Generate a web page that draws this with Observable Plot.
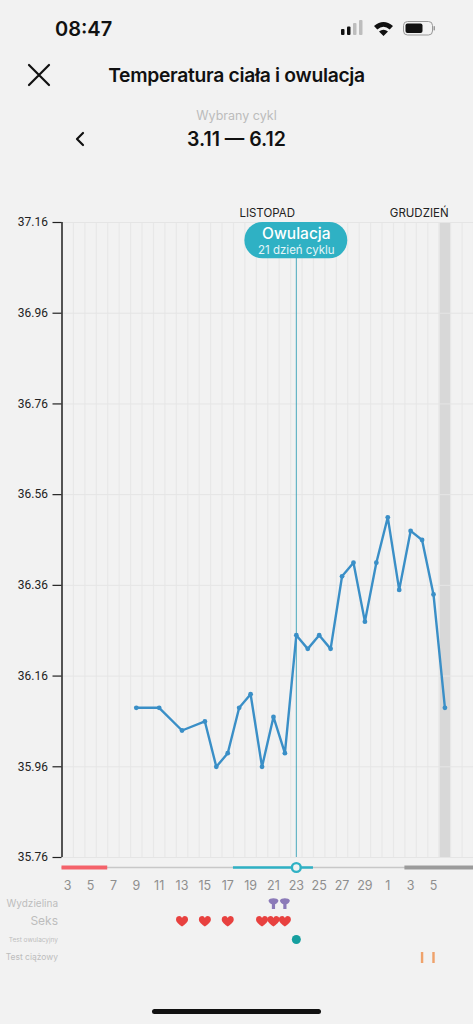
<!DOCTYPE html>
<html lang="pl">
<head>
<meta charset="utf-8">
<title>Temperatura ciała i owulacja</title>
<script src="https://cdn.jsdelivr.net/npm/d3@7"></script>
<script src="https://cdn.jsdelivr.net/npm/@observablehq/plot@0.6"></script>
<style>
  html, body { margin: 0; padding: 0; background: #f2f2f2; }
  body { width: 473px; height: 1024px; position: relative; overflow: hidden; font-family: Inter, sans-serif; color: #111; }
  .abs { position: absolute; white-space: nowrap; }
  .center { left: 0; width: 473px; text-align: center; }
  #chart { position: absolute; left: 0; top: 200px; }
  #tracks { position: absolute; left: 0; top: 857px; }
  svg { display: block; }
</style>
</head>
<body>
<div class="abs" style="left:55px;top:17px;font-size:20px;font-weight:600;line-height:24px">08:47</div>
<svg class="abs" style="left:338px;top:18px" width="102" height="22" viewBox="0 0 102 22">
  <g fill="#111"><rect x="3" y="11" width="3.500" height="6" rx="1"/><rect x="9" y="8.500" width="3.500" height="8.500" rx="1"/></g>
  <g fill="#bdbdbd"><rect x="15" y="5" width="3.500" height="12" rx="1"/><rect x="21" y="2" width="3.500" height="15" rx="1"/></g>
  <path d="M45.500 18 L41 13.500 Q45.500 10 50 13.500 Z M39.300 11.500 L36 8 Q45.500 0 55 8 L51.700 11.500 Q45.500 6 39.300 11.500 Z" fill="#111"/>
  <rect x="65.500" y="3.500" width="29" height="13.500" rx="4" fill="none" stroke="#999"/>
  <rect x="67.500" y="5.500" width="17" height="9.500" rx="2" fill="#111"/>
  <rect x="95.500" y="8" width="1.500" height="4.500" rx="0.700" fill="#999"/>
</svg>
<svg class="abs" style="left:26px;top:62px" width="26" height="26" viewBox="0 0 26 26"><path d="M3 3 L23 23 M23 3 L3 23" stroke="#111" stroke-width="2.200" stroke-linecap="round"/></svg>
<div class="abs center" style="top:63px;font-size:19.300px;font-weight:600;line-height:24px;letter-spacing:-0.300px">Temperatura ciała i owulacja</div>
<div class="abs center" style="top:108px;font-size:12.500px;line-height:16px;color:#bcbcbc">Wybrany cykl</div>
<svg class="abs" style="left:73px;top:131px" width="14" height="16" viewBox="0 0 14 16"><path d="M10 2 L4 8 L10 14" fill="none" stroke="#111" stroke-width="2.200" stroke-linecap="round" stroke-linejoin="round"/></svg>
<div class="abs center" style="top:127px;font-size:19.500px;font-weight:600;line-height:24px">3.11 — 6.12</div>
<div id="chart"></div>
<div id="tracks"></div>
<div class="abs" style="left:152px;top:1009px;width:169px;height:5px;border-radius:3px;background:#111"></div>
<script>
// Days are counted from the first day of the cycle (3 Nov = 0)
const pointDays = [6, 8, 10, 12, 13, 14, 15, 16, 17, 18, 19, 20, 21, 22, 23, 24, 25, 26, 27, 28, 29, 30, 31, 32, 33];
const temperatures = [36.09, 36.09, 36.04, 36.06, 35.96, 35.99, 36.09, 36.12, 35.96, 36.07, 35.99, 36.25, 36.22, 36.25, 36.22, 36.38, 36.41, 36.28, 36.41, 36.51, 36.35, 36.48, 36.46, 36.34, 36.09];
const yTicks = [37.16, 36.96, 36.76, 36.56, 36.36, 36.16, 35.96, 35.76];
const xTickDays = [0, 2, 4, 6, 8, 10, 12, 14, 16, 18, 20, 22, 24, 26, 28, 30, 32];
const xTickLabels = ["3", "5", "7", "9", "11", "13", "15", "17", "19", "21", "23", "25", "27", "29", "1", "3", "5"];
const months = ["LISTOPAD", "GRUDZIEŃ"];
const monthDays = [17.45, 30.75];
const dischargeDays = [18, 19];
const sexDays = [10, 12, 14, 17, 18, 19];
const ovulationTestDays = [20];
const pregnancyTestDays = [31, 32];
const ovulationDay = 20;
const todayBand = [32.5, 33.5];
const rows = ["cykl", "dni", "Wydzielina", "Seks", "Test owulacyjny", "Test ciążowy"];
const rowFontSizes = [10, 12, 6.5, 8.5];

const xDomain = [-0.5, 35.5];
const dayEdges = d3.range(-0.5, 36, 1);
const points = pointDays.map((day, i) => ({day, temp: temperatures[i]}));

const TEAL = "#2fb1c4";

function symbolFrom(path) {
  return {draw(ctx, size) {
    const r = Math.sqrt(size / Math.PI);
    path(ctx, r);
  }};
}
const heart = symbolFrom((c, r) => {
  c.moveTo(0, 0.85 * r);
  c.bezierCurveTo(-0.5 * r, 0.45 * r, -r, 0.1 * r, -r, -0.35 * r);
  c.bezierCurveTo(-r, -0.75 * r, -0.7 * r, -0.9 * r, -0.45 * r, -0.9 * r);
  c.bezierCurveTo(-0.25 * r, -0.9 * r, -0.08 * r, -0.75 * r, 0, -0.6 * r);
  c.bezierCurveTo(0.08 * r, -0.75 * r, 0.25 * r, -0.9 * r, 0.45 * r, -0.9 * r);
  c.bezierCurveTo(0.7 * r, -0.9 * r, r, -0.75 * r, r, -0.35 * r);
  c.bezierCurveTo(r, 0.1 * r, 0.5 * r, 0.45 * r, 0, 0.85 * r);
  c.closePath();
});
const funnel = symbolFrom((c, r) => {
  c.moveTo(-r, -0.55 * r);
  c.bezierCurveTo(-0.8 * r, -1.2 * r, 0.8 * r, -1.2 * r, r, -0.55 * r);
  c.bezierCurveTo(0.95 * r, -0.25 * r, 0.6 * r, 0.05 * r, 0.32 * r, 0.15 * r);
  c.lineTo(0.32 * r, 1.1 * r);
  c.lineTo(-0.32 * r, 1.1 * r);
  c.lineTo(-0.32 * r, 0.15 * r);
  c.bezierCurveTo(-0.6 * r, 0.05 * r, -0.95 * r, -0.25 * r, -r, -0.55 * r);
  c.closePath();
});
const bar = symbolFrom((c, r) => {
  c.rect(-0.22 * r, -r, 0.44 * r, 2 * r);
});

const chart = Plot.plot({
  width: 473, height: 658,
  marginLeft: 61.5, marginRight: 0, marginTop: 22, marginBottom: 1,
  style: {background: "transparent", fontFamily: "Inter, sans-serif", overflow: "visible"},
  x: {domain: xDomain, axis: null},
  y: {domain: [35.76, 37.16], axis: null},
  marks: [
    Plot.rect([todayBand], {x1: d => d[0], x2: d => d[1], y1: 35.76, y2: 37.16, fill: "#d8d8d8"}),
    Plot.ruleX(dayEdges, {stroke: "#e8e8e8", strokeWidth: 1.2}),
    Plot.ruleY(yTicks, {stroke: "#e5e5e5", strokeWidth: 1, x1: -0.5, x2: 35.5}),
    Plot.ruleX([ovulationDay], {stroke: "#49a9bc", strokeWidth: 1}),
    Plot.line(points, {x: "day", y: "temp", stroke: "#3a8fc7", strokeWidth: 2.4}),
    Plot.dot(points, {x: "day", y: "temp", fill: "#3a8fc7", r: 2.4}),
    Plot.rect([ovulationDay], {x1: d => d - 4.5, x2: d => d + 4.5, y1: 37.08, y2: 37.16, fill: TEAL, rx: 18}),
    Plot.text(["Owulacja"], {x: ovulationDay, y: 37.16, dy: 12, text: d => d, fill: "#fff", fontSize: 15.5, fontWeight: 500}),
    Plot.text(["21 dzień cyklu"], {x: ovulationDay, y: 37.16, dy: 28, text: d => d, fill: "#e4f5f8", fontSize: 11.5}),
    Plot.text(months, {x: (d, i) => monthDays[i], y: 37.16, dy: -9, text: d => d, fill: "#222", fontSize: 11.5}),
    Plot.ruleX([-0.5], {stroke: "#222", strokeWidth: 1.5}),
    Plot.axisY({ticks: yTicks, anchor: "left", label: null, tickSize: 9, tickPadding: 5, tickFormat: d => d.toFixed(2), stroke: "#222", strokeWidth: 1.2, fontSize: 12, fontFamily: "Roboto, sans-serif", fill: "#222"})
  ]
});
document.getElementById("chart").append(chart);

const tracks = Plot.plot({
  width: 473, height: 167,
  marginLeft: 61.5, marginRight: 0, marginTop: 9, marginBottom: 67,
  style: {background: "transparent", fontFamily: "Inter, sans-serif", overflow: "visible"},
  x: {domain: xDomain, axis: null},
  y: {type: "point", domain: rows, padding: 0, axis: null},
  marks: [
    Plot.ruleY(["cykl"], {x1: -0.5, x2: 35.5, stroke: "#c8c8c8", strokeWidth: 1.5}),
    Plot.ruleY(["cykl"], {x1: -0.5, x2: 3.5, stroke: "#f4626a", strokeWidth: 4}),
    Plot.ruleY(["cykl"], {x1: 14.5, x2: 21.5, stroke: TEAL, strokeWidth: 2.6}),
    Plot.ruleY(["cykl"], {x1: 29.5, x2: 35.5, stroke: "#9b9b9b", strokeWidth: 4}),
    Plot.dot([ovulationDay], {x: d => d, y: () => "cykl", r: 4.4, fill: "#f2f2f2", stroke: TEAL, strokeWidth: 2.4}),
    Plot.text(xTickDays, {x: d => d, y: () => "dni", text: (d, i) => xTickLabels[i], fill: "#8e8e8e", fontSize: 12.5}),
    Plot.text(rows.slice(2), {x: -0.5, dx: -4, y: d => d, text: d => d, textAnchor: "end", fill: "#bdbdbd", fontSize: (d, i) => rowFontSizes[i]}),
    Plot.dot(dischargeDays, {x: d => d, y: () => "Wydzielina", symbol: funnel, r: 5, fill: "#8b7ab8"}),
    Plot.dot(sexDays, {x: d => d, y: () => "Seks", symbol: heart, r: 6, fill: "#e8413f"}),
    Plot.dot(ovulationTestDays, {x: d => d, y: () => "Test owulacyjny", r: 4.5, fill: "#159f9f"}),
    Plot.dot(pregnancyTestDays, {x: d => d, y: () => "Test ciążowy", symbol: bar, r: 5.5, fill: "#efa26b"})
  ]
});
document.getElementById("tracks").append(tracks);
</script>
</body>
</html>
